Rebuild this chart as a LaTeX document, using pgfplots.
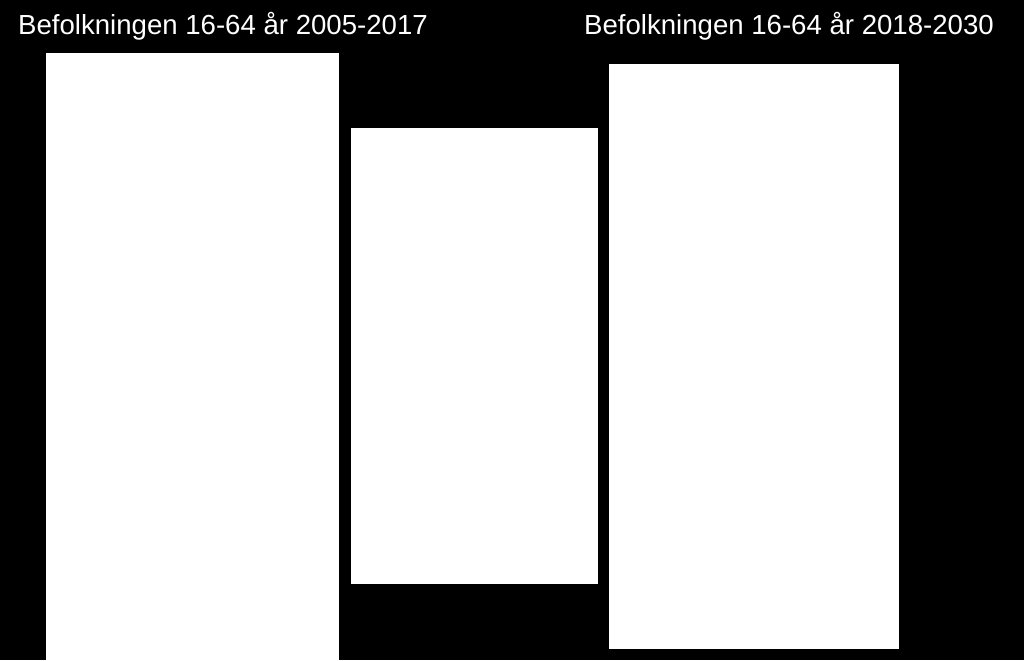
\documentclass[border=0pt]{standalone}
\usepackage{fontspec}
\setmainfont{Liberation Sans}
\usepackage{pgfplots}
\pgfplotsset{compat=1.18}

\begin{document}
\begin{tikzpicture}
  % one pixel of the reference = 0.5pt, y measured from the bottom
  \begin{axis}[
    width=512pt,
    height=330pt,
    scale only axis,
    xmin=0, xmax=1024,
    ymin=0, ymax=660,
    axis lines=none,
    ticks=none,
    axis background/.style={fill=black},
    title style={text=white},
  ]
    % 2005-2017 level
    \addplot[draw=none, fill=white] coordinates {
      (46,0) (46,607) (339,607) (339,0)
    } -- cycle;
    % change
    \addplot[draw=none, fill=white] coordinates {
      (351,76) (351,532) (598,532) (598,76)
    } -- cycle;
    % 2018-2030 level
    \addplot[draw=none, fill=white] coordinates {
      (609,11) (609,596) (899,596) (899,11)
    } -- cycle;

    \node[anchor=base, text=white, inner sep=0pt,
          font=\fontsize{13.8}{16}\selectfont]
      at (axis cs:223,625) {Befolkningen 16-64 år 2005-2017};
    \node[anchor=base, text=white, inner sep=0pt,
          font=\fontsize{13.8}{16}\selectfont]
      at (axis cs:789,625) {Befolkningen 16-64 år 2018-2030};
  \end{axis}
\end{tikzpicture}
\end{document}
